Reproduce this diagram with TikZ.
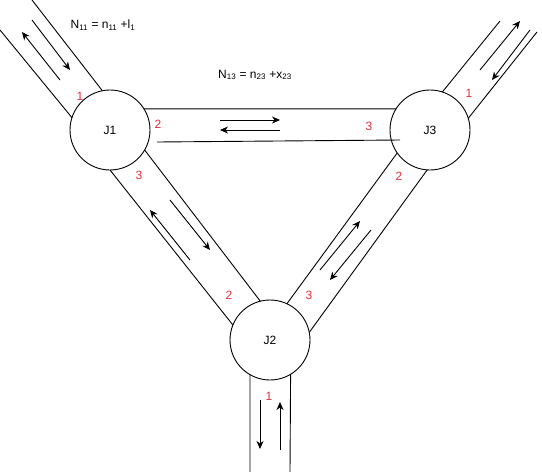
\documentclass[tikz,border=0pt]{standalone}
\usepackage{fontspec}
\setmainfont{Liberation Sans}
\usetikzlibrary{positioning,calc,arrows.meta}
\definecolor{portred}{RGB}{232,48,58}
\tikzset{junction/.style={draw,circle,minimum size=80pt,inner sep=0pt,outer sep=0pt,font=\fontsize{12}{14}\selectfont}}
\tikzset{port/.style={text=portred,inner sep=0pt,font=\fontsize{12}{14}\selectfont}}
\tikzset{flow/.style={-{Stealth[length=8pt,width=7pt,inset=2.5pt]}}}
\tikzset{eqn/.style={inner sep=0pt,font=\fontsize{12}{14}\selectfont}}

\begin{document}
\begin{tikzpicture}[x=1pt,y=-1pt,line width=0.9pt]
	\useasboundingbox (0,0) rectangle (542,472);
		\node[junction] (J1) at (110,130) {J1};
		\node[junction] (J3) at (430,130) {J3};
		\node[junction] (J2) at (270,340) {J2};

		% free road ends
		\coordinate (in1a) at (0,30);
		\coordinate (in1b) at (32,0);
		\coordinate (in3a) at (500,21);
		\coordinate (in3b) at (537,32);
		\coordinate (in2a) at (250,472);
		\coordinate (in2b) at (290,472);
		\coordinate (low1) at (157,142);
		\coordinate (low3) at (400,140);

		\draw (J1.162) -- (in1a) (J1.101) -- (in1b);
		\draw (J3.72) -- (in3a) (J3.17) -- (in3b);
		\draw (J2.240) -- (in2a) (J2.301) -- (in2b);

		\draw (J1.32) -- (J3.148) (low1) -- (low3);
		\draw (J1.270) -- (J2.158) (J1.330) -- (J2.104);
		\draw (J3.215) -- (J2.65) (J3.266) -- (J2.11);

		% lanes
		\draw[flow] (60,80) -- (22,32);
		\draw[flow] (32,20) -- (70,70);
		\draw[flow] (480,70) -- (520,21);
		\draw[flow] (530,30) -- (492,80);
		\draw[flow] (220,120) -- (280,120);
		\draw[flow] (280,130) -- (220,130);
		\draw[flow] (190,260) -- (150,210);
		\draw[flow] (170,200) -- (210,250);
		\draw[flow] (320,270) -- (360,221);
		\draw[flow] (371,230) -- (330,280);
		\draw[flow] (260,400) -- (260,449);
		\draw[flow] (280,450) -- (280,402);

		\node[port] (p11) at (80,96) {1};
		\node[port] (p12) at (158,124) {2};
		\node[port] (p13) at (139,175) {3};
		\node[port] (p31) at (469,93) {1};
		\node[port] (p32) at (399,176) {2};
		\node[port] (p33) at (369,126) {3};
		\node[port] (p21) at (269,396) {1};
		\node[port] (p22) at (229,295) {2};
		\node[port] (p23) at (309,295) {3};

		\node[eqn] (n11) at (103,25) {N\textsubscript{11} = n\textsubscript{11} +l\textsubscript{1}};
		\node[eqn] (n13) at (255,75) {N\textsubscript{13} = n\textsubscript{23} +x\textsubscript{23}};
	\end{tikzpicture}
\end{document}
